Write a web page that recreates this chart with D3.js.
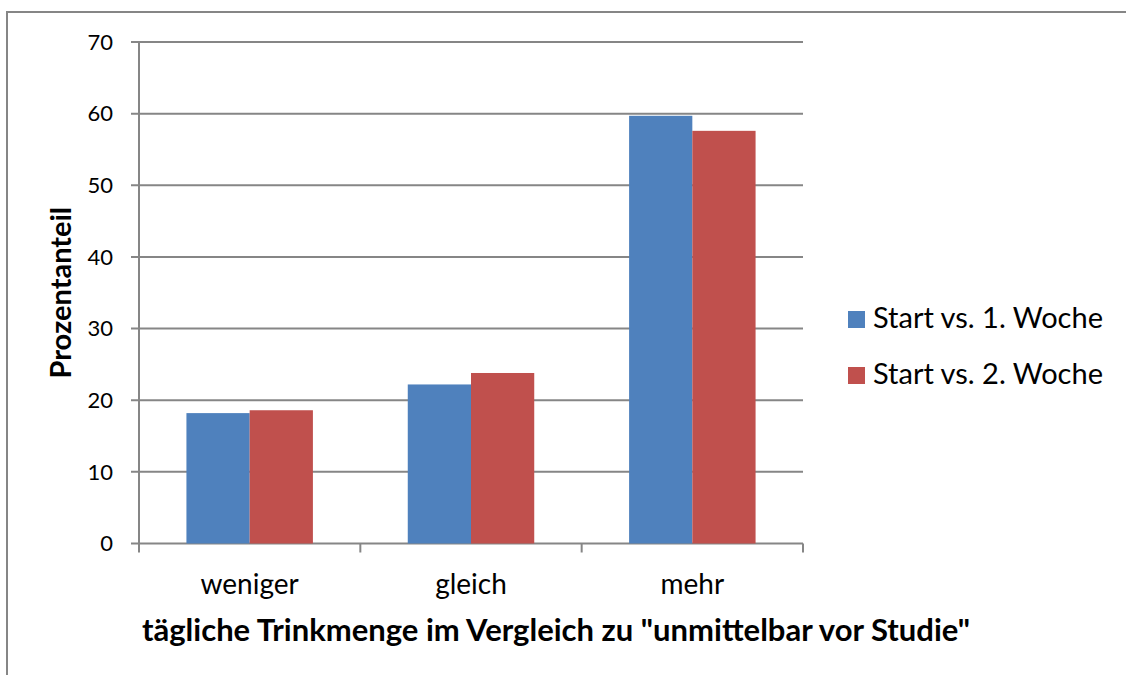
<!DOCTYPE html>
<html>
<head>
<meta charset="utf-8">
<script src="https://cdn.jsdelivr.net/npm/d3@7"></script>
<style>
  body { margin: 0; background: #fff; }
  text { font-family: Lato, "Noto Sans", sans-serif; fill: #000; }
</style>
</head>
<body>
<svg id="chart" width="1126" height="675"></svg>
<script>
// data
var categories = ["weniger", "gleich", "mehr"];
var seriesNames = ["Start vs. 1. Woche", "Start vs. 2. Woche"];
var week1 = [18.2, 22.2, 59.7];
var week2 = [18.6, 23.8, 57.6];
var yTicks = [0, 10, 20, 30, 40, 50, 60, 70];
var colors = ["#4f81bd", "#c0504d"];

var svg = d3.select("#chart");

// outer frame (runs off the right and bottom edge)
svg.append("rect")
  .attr("x", 7).attr("y", 12)
  .attr("width", 1140).attr("height", 700)
  .attr("fill", "none").attr("stroke", "#868686").attr("stroke-width", 2);

// plot area
var plotL = 139, plotR = 803, plotT = 42, plotB = 543.5;

var x0 = d3.scaleBand().domain(categories).range([plotL, plotR]);
var x1 = d3.scaleBand().domain(seriesNames).range([0, x0.bandwidth()])
  .paddingInner(0).paddingOuter(0.75);
var y = d3.scaleLinear().domain([0, 70]).range([plotB, plotT]);

// gridlines + y ticks
svg.append("g").selectAll("line")
  .data(yTicks)
  .enter().append("line")
  .attr("x1", plotL - 8).attr("x2", plotR)
  .attr("y1", function(d) { return y(d); })
  .attr("y2", function(d) { return y(d); })
  .attr("stroke", "#868686").attr("stroke-width", 2);

svg.append("g").selectAll("text")
  .data(yTicks)
  .enter().append("text")
  .attr("x", 113)
  .attr("y", function(d) { return y(d); })
  .attr("dy", ".35em")
  .attr("text-anchor", "end")
  .style("font-size", "22px")
  .text(function(d) { return d; });

// bars
var series = [week1, week2];
series.forEach(function(vals, s) {
  svg.append("g").selectAll("rect")
    .data(vals)
    .enter().append("rect")
    .attr("x", function(d, i) { return x0(categories[i]) + x1(seriesNames[s]); })
    .attr("width", x1.bandwidth())
    .attr("y", function(d) { return y(d); })
    .attr("height", function(d) { return y(0) - y(d); })
    .attr("fill", colors[s]);
});

// y axis line
svg.append("line")
  .attr("x1", plotL).attr("x2", plotL)
  .attr("y1", plotT).attr("y2", plotB)
  .attr("stroke", "#868686").attr("stroke-width", 2);

// category ticks
var bounds = categories.map(function(c) { return x0(c); }).concat([plotR]);
svg.append("g").selectAll("line")
  .data(bounds)
  .enter().append("line")
  .attr("x1", function(d) { return d; })
  .attr("x2", function(d) { return d; })
  .attr("y1", plotB).attr("y2", plotB + 9)
  .attr("stroke", "#868686").attr("stroke-width", 2);

// category labels
svg.append("g").selectAll("text")
  .data(categories)
  .enter().append("text")
  .attr("x", function(d) { return x0(d) + x0.bandwidth() / 2; })
  .attr("y", 594)
  .attr("text-anchor", "middle")
  .style("font-size", "28px")
  .text(function(d) { return d; });

// axis titles
svg.append("text")
  .attr("x", 556).attr("y", 641)
  .attr("text-anchor", "middle")
  .style("font-size", "31px").style("font-weight", "bold")
  .text("tägliche Trinkmenge im Vergleich zu \"unmittelbar vor Studie\"");

svg.append("text")
  .attr("transform", "translate(71," + ((plotT + plotB) / 2) + ") rotate(-90)")
  .attr("text-anchor", "middle")
  .style("font-size", "29px").style("font-weight", "bold")
  .text("Prozentanteil");

// legend
var legend = svg.append("g");
legend.selectAll("rect")
  .data(seriesNames)
  .enter().append("rect")
  .attr("x", 848)
  .attr("y", function(d, i) { return 311 + i * 56; })
  .attr("width", 17).attr("height", 17)
  .attr("fill", function(d, i) { return colors[i]; });

legend.selectAll("text")
  .data(seriesNames)
  .enter().append("text")
  .attr("x", 873)
  .attr("y", function(d, i) { return 328 + i * 56; })
  .style("font-size", "29px")
  .text(function(d) { return d; });
</script>
</body>
</html>
